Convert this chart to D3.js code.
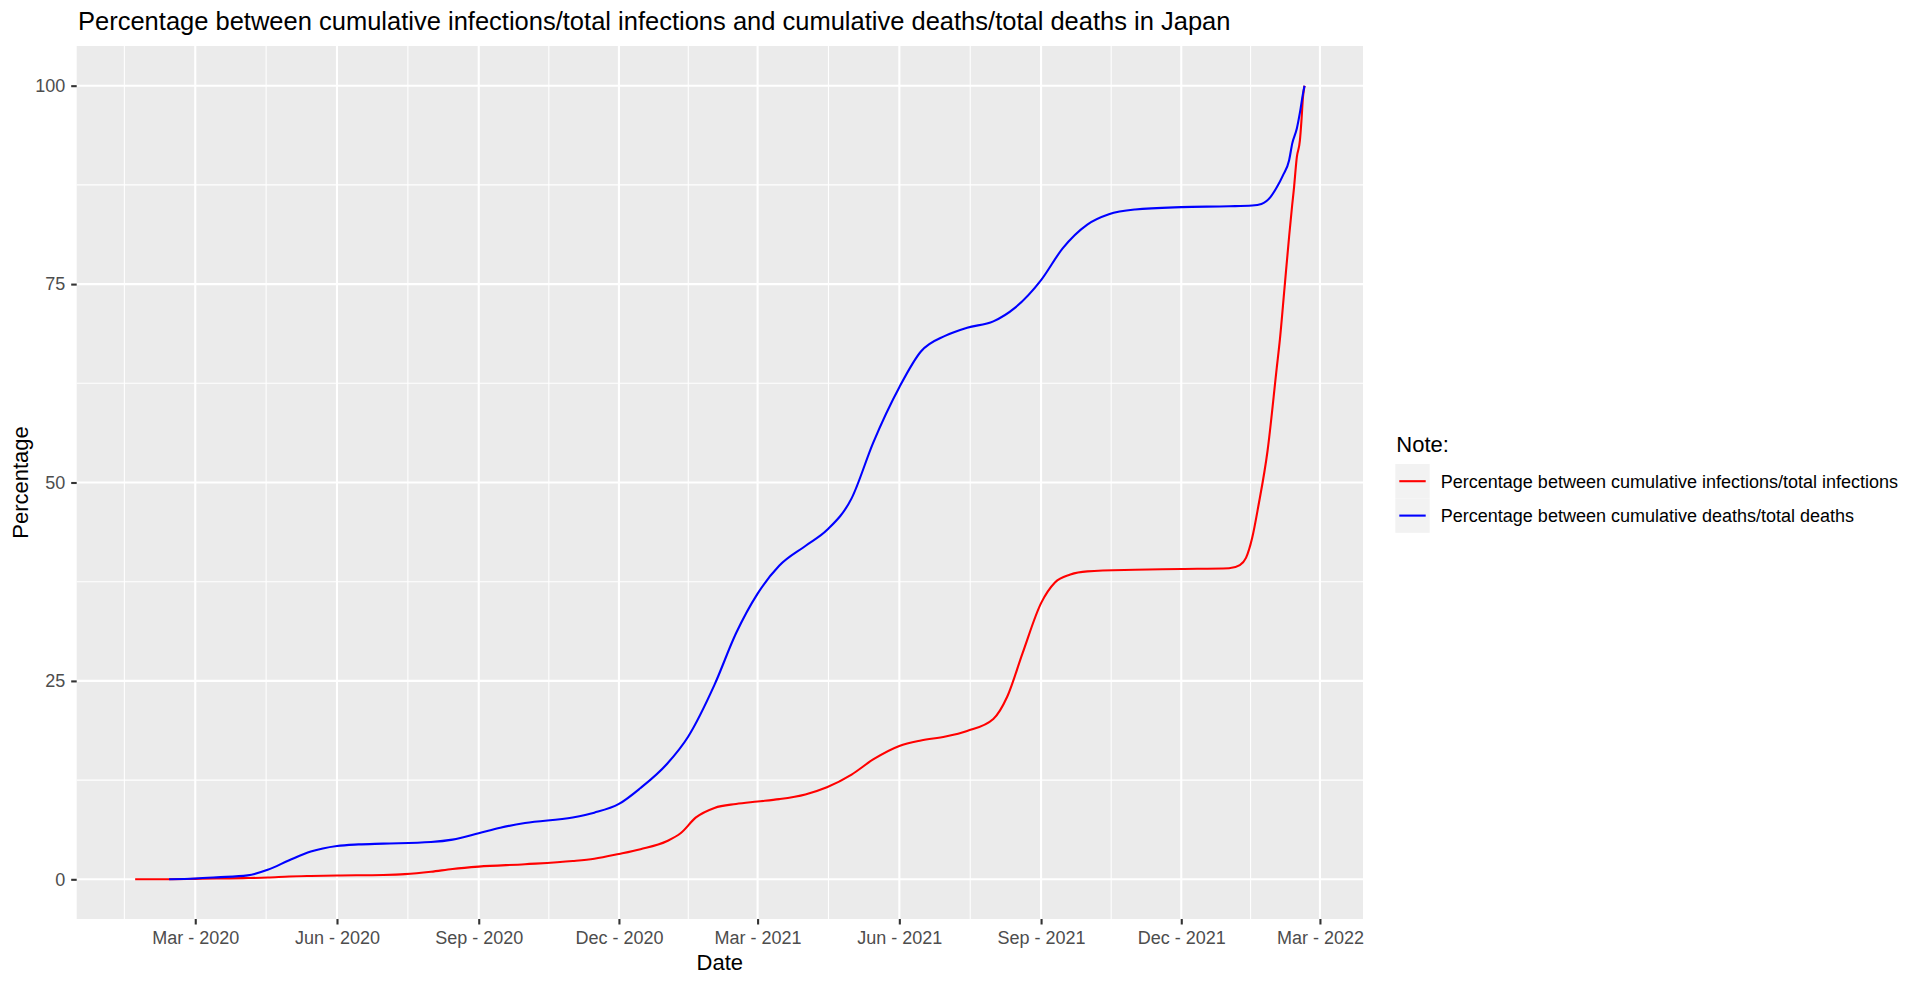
<!DOCTYPE html>
<html><head><meta charset="utf-8">
<script src="https://cdn.jsdelivr.net/npm/d3@7"></script>
<style>
body{margin:0;background:#fff;}
svg{display:block;}
text{font-family:"Liberation Sans",Arial,Helvetica,sans-serif;}
</style>
</head><body>
<svg id="chart" width="1920" height="985"></svg>
<script>
// ---------------- DATA ----------------
const chartTitle = "Percentage between cumulative infections/total infections and cumulative deaths/total deaths in Japan";
const xAxisTitle = "Date";
const yAxisTitle = "Percentage";
const legendTitle = "Note:";
const seriesNames = [
  "Percentage between cumulative infections/total infections",
  "Percentage between cumulative deaths/total deaths"
];
const seriesColors = ["#FF0000", "#0000FF"];

const infectionDates = [
  "2020-01-22","2020-02-15","2020-03-01","2020-03-15","2020-04-01","2020-04-17","2020-05-01","2020-05-15",
  "2020-06-01","2020-07-01","2020-07-15","2020-08-01","2020-08-15","2020-09-01","2020-10-01","2020-11-01",
  "2020-11-15","2020-12-01","2020-12-15","2021-01-01","2021-01-10","2021-01-20","2021-02-01","2021-02-15",
  "2021-03-01","2021-03-15","2021-04-01","2021-04-15","2021-05-01","2021-05-15","2021-06-01","2021-06-15",
  "2021-07-01","2021-07-15","2021-08-01","2021-08-10","2021-08-20","2021-09-01","2021-09-10","2021-09-20",
  "2021-10-01","2021-11-01","2021-12-01","2022-01-01","2022-01-08","2022-01-12","2022-01-16","2022-01-20",
  "2022-01-26","2022-02-01","2022-02-03","2022-02-06","2022-02-09","2022-02-11","2022-02-12","2022-02-14",
  "2022-02-16","2022-02-17","2022-02-18","2022-02-19"
];
const infectionValues = [
  0, 0.01, 0.05, 0.1, 0.15, 0.22, 0.35, 0.42,
  0.48, 0.55, 0.65, 0.95, 1.3, 1.6, 1.9, 2.3,
  2.6, 3.2, 3.8, 4.8, 5.8, 7.8, 9.0, 9.5,
  9.8, 10.1, 10.7, 11.6, 13.2, 15.1, 16.8, 17.5,
  18.0, 18.7, 20.2, 23, 28.5, 34.8, 37.4, 38.4,
  38.8, 39.0, 39.1, 39.2, 39.6, 40.5, 43, 47,
  54, 64.5, 68, 74.5, 81, 85, 86.8, 91,
  93.1, 95.6, 98.6, 100
];

const deathDates = [
  "2020-02-13","2020-03-01","2020-03-15","2020-04-04","2020-04-17","2020-05-01","2020-05-15","2020-06-01",
  "2020-06-15","2020-07-01","2020-08-01","2020-08-15","2020-09-01","2020-09-15","2020-10-01","2020-11-01",
  "2020-11-15","2020-12-01","2020-12-15","2021-01-01","2021-01-15","2021-02-01","2021-02-15","2021-03-01",
  "2021-03-15","2021-04-01","2021-04-15","2021-05-01","2021-05-15","2021-06-01","2021-06-15","2021-07-01",
  "2021-07-15","2021-08-01","2021-08-15","2021-09-01","2021-09-15","2021-10-01","2021-10-15","2021-11-01",
  "2021-12-01","2022-01-01","2022-01-16","2022-01-22","2022-01-28","2022-02-01","2022-02-05","2022-02-09",
  "2022-02-11","2022-02-14","2022-02-16","2022-02-18","2022-02-19"
];
const deathValues = [
  0, 0.1, 0.25, 0.5, 1.2, 2.4, 3.5, 4.2,
  4.4, 4.5, 4.7, 5.0, 5.8, 6.5, 7.1, 7.8,
  8.4, 9.5, 11.5, 14.5, 18, 24.5, 31, 36,
  39.5, 42, 44, 48, 55, 62, 66.5, 68.5,
  69.5, 70.3, 72, 75.5, 79.5, 82.5, 83.8, 84.4,
  84.7, 84.8, 84.9, 85.1, 86, 87.2, 88.7, 90.6,
  92.7, 94.6, 96.6, 99, 100
];

const xTickDates = ["2020-03-01","2020-06-01","2020-09-01","2020-12-01","2021-03-01","2021-06-01","2021-09-01","2021-12-01","2022-03-01"];
const yTickValues = [0, 25, 50, 75, 100];
const yMinorValues = [12.5, 37.5, 62.5, 87.5];

// ---------------- LAYOUT ----------------
const parse = d3.utcParse("%Y-%m-%d");
const panel = {left: 76.7, right: 1363, top: 46, bottom: 919};
const svg = d3.select("#chart");

const series = [
  {name: seriesNames[0], color: seriesColors[0], points: infectionDates.map((d,i)=>({date: parse(d), value: infectionValues[i]}))},
  {name: seriesNames[1], color: seriesColors[1], points: deathDates.map((d,i)=>({date: parse(d), value: deathValues[i]}))}
];

const allDates = series.flatMap(s => s.points.map(p => p.date));
const [dMin, dMax] = d3.extent(allDates);
const span = dMax - dMin;
const x = d3.scaleUtc()
  .domain([new Date(+dMin - span*0.05), new Date(+dMax + span*0.05)])
  .range([panel.left, panel.right]);
const y = d3.scaleLinear().domain([-5, 105]).range([panel.bottom, panel.top]);

const xTicks = xTickDates.map(parse);
const xMinor = [];
xMinor.push(new Date(+xTicks[0] - (xTicks[1]-xTicks[0])/2));
for (let i = 0; i < xTicks.length - 1; i++) xMinor.push(new Date((+xTicks[i] + +xTicks[i+1]) / 2));

// panel background
svg.append("rect").attr("x", panel.left).attr("y", panel.top)
  .attr("width", panel.right - panel.left).attr("height", panel.bottom - panel.top)
  .attr("fill", "#EBEBEB");

const grid = svg.append("g");
// minor grid
grid.selectAll(".ymin").data(yMinorValues).join("line")
  .attr("x1", panel.left).attr("x2", panel.right)
  .attr("y1", d => y(d)).attr("y2", d => y(d))
  .attr("stroke", "#fff").attr("stroke-width", 1.05);
grid.selectAll(".xmin").data(xMinor.filter(d => x(d) > panel.left && x(d) < panel.right)).join("line")
  .attr("y1", panel.top).attr("y2", panel.bottom)
  .attr("x1", d => x(d)).attr("x2", d => x(d))
  .attr("stroke", "#fff").attr("stroke-width", 1.05);
// major grid
grid.selectAll(".ymaj").data(yTickValues).join("line")
  .attr("x1", panel.left).attr("x2", panel.right)
  .attr("y1", d => y(d)).attr("y2", d => y(d))
  .attr("stroke", "#fff").attr("stroke-width", 2.1);
grid.selectAll(".xmaj").data(xTicks).join("line")
  .attr("y1", panel.top).attr("y2", panel.bottom)
  .attr("x1", d => x(d)).attr("x2", d => x(d))
  .attr("stroke", "#fff").attr("stroke-width", 2.1);

// lines
const line = d3.line().x(d => x(d.date)).y(d => y(d.value)).curve(d3.curveMonotoneX);
svg.append("g").selectAll("path").data(series).join("path")
  .attr("d", s => line(s.points))
  .attr("fill", "none").attr("stroke", s => s.color).attr("stroke-width", 2.1)
  .attr("stroke-linejoin", "round");

// axes
const fmt = d3.utcFormat("%b - %Y");
const xAxis = svg.append("g").attr("transform", `translate(0,${panel.bottom})`)
  .call(d3.axisBottom(x).tickValues(xTicks).tickFormat(fmt).tickSize(5.5).tickPadding(6.5));
const yAxis = svg.append("g").attr("transform", `translate(${panel.left},0)`)
  .call(d3.axisLeft(y).tickValues(yTickValues).tickFormat(d3.format("d")).tickSize(5.5).tickPadding(6));
[xAxis, yAxis].forEach(a => {
  a.select(".domain").remove();
  a.selectAll(".tick line").attr("stroke", "#333333").attr("stroke-width", 2.1);
  a.selectAll(".tick text").attr("fill", "#4D4D4D").style("font-size", "18px")
    .style("font-family", '"Liberation Sans",Arial,sans-serif');
});

// titles
svg.append("text").attr("x", 78).attr("y", 30).text(chartTitle)
  .style("font-size", "25.5px").attr("fill", "#000");
svg.append("text").attr("x", (panel.left + panel.right)/2).attr("y", 970)
  .attr("text-anchor", "middle").text(xAxisTitle).style("font-size", "22px").attr("fill", "#000");
svg.append("text").attr("transform", `translate(28,${(panel.top + panel.bottom)/2}) rotate(-90)`)
  .attr("text-anchor", "middle").text(yAxisTitle).style("font-size", "22px").attr("fill", "#000");

// legend
const lg = svg.append("g").attr("transform", "translate(1395.3,464)");
lg.append("text").attr("x", 1).attr("y", -12.3).text(legendTitle).style("font-size", "22px").attr("fill", "#000");
const keyH = 34.4;
const items = lg.selectAll("g.item").data(series).join("g").attr("class", "item")
  .attr("transform", (d, i) => `translate(0,${i*keyH})`);
items.append("rect").attr("width", 34.4).attr("height", keyH).attr("fill", "#F2F2F2");
items.append("line").attr("x1", 4).attr("x2", 30.4).attr("y1", keyH/2).attr("y2", keyH/2)
  .attr("stroke", d => d.color).attr("stroke-width", 2.1);
items.append("text").attr("x", 45.5).attr("y", keyH/2).attr("dy", "0.35em").text(d => d.name)
  .style("font-size", "18px").attr("fill", "#000");
</script>
</body></html>
